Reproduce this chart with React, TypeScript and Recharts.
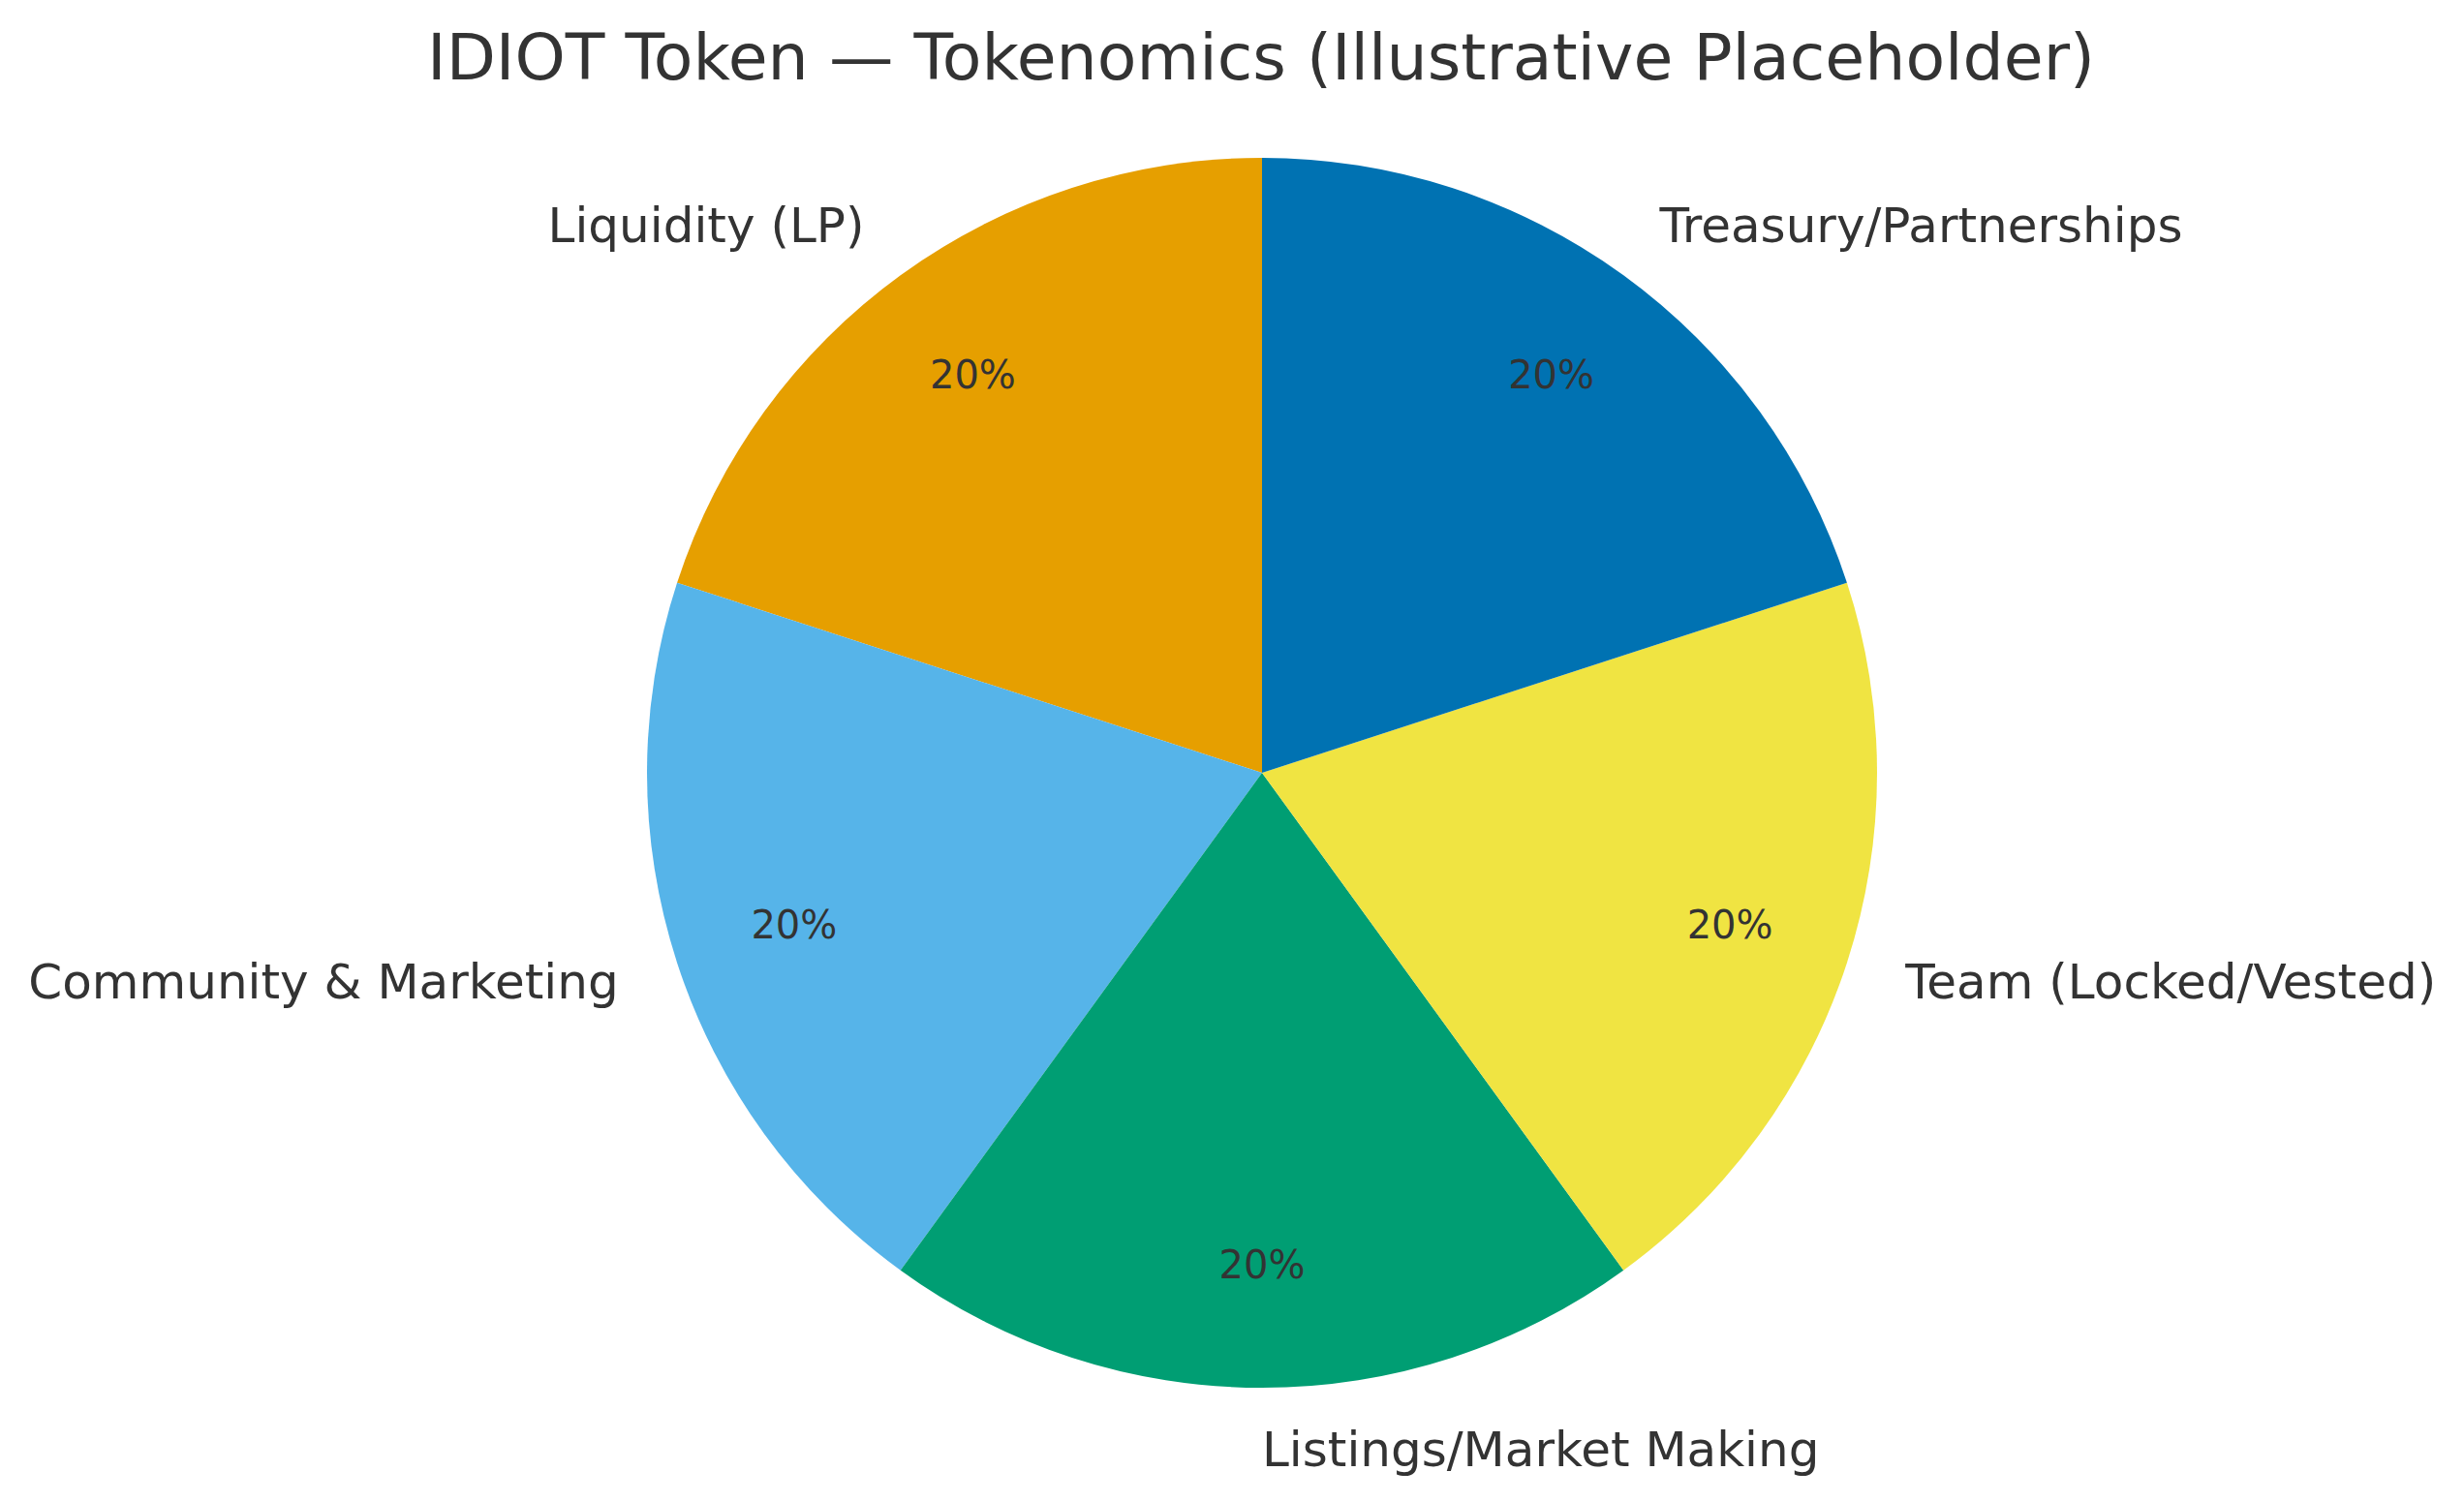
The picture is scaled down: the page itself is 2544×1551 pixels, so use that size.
import { PieChart, Pie, Cell } from 'recharts'

const categories = [
  'Liquidity (LP)',
  'Community & Marketing',
  'Listings/Market Making',
  'Team (Locked/Vested)',
  'Treasury/Partnerships',
]
const shares = [20, 20, 20, 20, 20]
const colors = ['#E69F00', '#56B4E9', '#009E73', '#F0E442', '#0072B2']

const title = 'IDIOT Token — Tokenomics (Illustrative Placeholder)'

const data = categories.map((name, i) => ({ name, value: shares[i] }))

const RAD = Math.PI / 180
const FONT = '"DejaVu Sans", sans-serif'
const TEXT = '#333333'

function renderLabel(props: any) {
  const { cx, cy, midAngle, outerRadius, percent, name } = props
  const cos = Math.cos(-midAngle * RAD)
  const sin = Math.sin(-midAngle * RAD)
  // outer label at 1.1r, percent at 0.8r (matplotlib-ish)
  const lx = cx + outerRadius * 1.1 * cos
  const ly = cy + outerRadius * 1.1 * sin
  const px = cx + outerRadius * 0.8 * cos
  const py = cy + outerRadius * 0.8 * sin
  return (
    <g>
      <text
        x={lx}
        y={ly}
        fill={TEXT}
        fontFamily={FONT}
        fontSize={50}
        textAnchor={cos > -1e-9 ? 'start' : 'end'}
        dominantBaseline="central"
      >
        {name}
      </text>
      <text
        x={px}
        y={py}
        fill={TEXT}
        fontFamily={FONT}
        fontSize={40}
        textAnchor="middle"
        dominantBaseline="central"
      >
        {`${Math.round(percent * 100)}%`}
      </text>
    </g>
  )
}

export default function App() {
  return (
    <div style={{ position: 'absolute', left: 0, top: 0, width: 2544, height: 1551, background: '#fff' }}>
      <svg width={2544} height={130} style={{ position: 'absolute', left: 0, top: 0 }}>
        <text x={1302} y={59} textAnchor="middle" dominantBaseline="central" fontFamily={FONT} fontSize={66.5} fill={TEXT}>
          {title}
        </text>
      </svg>
      <PieChart width={2544} height={1551} margin={{ top: 0, right: 0, bottom: 0, left: 0 }}>
        <Pie
          data={data}
          dataKey="value"
          nameKey="name"
          cx={1303}
          cy={798}
          outerRadius={635}
          startAngle={90}
          endAngle={450}
          stroke="none"
          label={renderLabel}
          labelLine={false}
          isAnimationActive={false}
        >
          {data.map((d, i) => (
            <Cell key={d.name} fill={colors[i]} />
          ))}
        </Pie>
      </PieChart>
    </div>
  )
}
